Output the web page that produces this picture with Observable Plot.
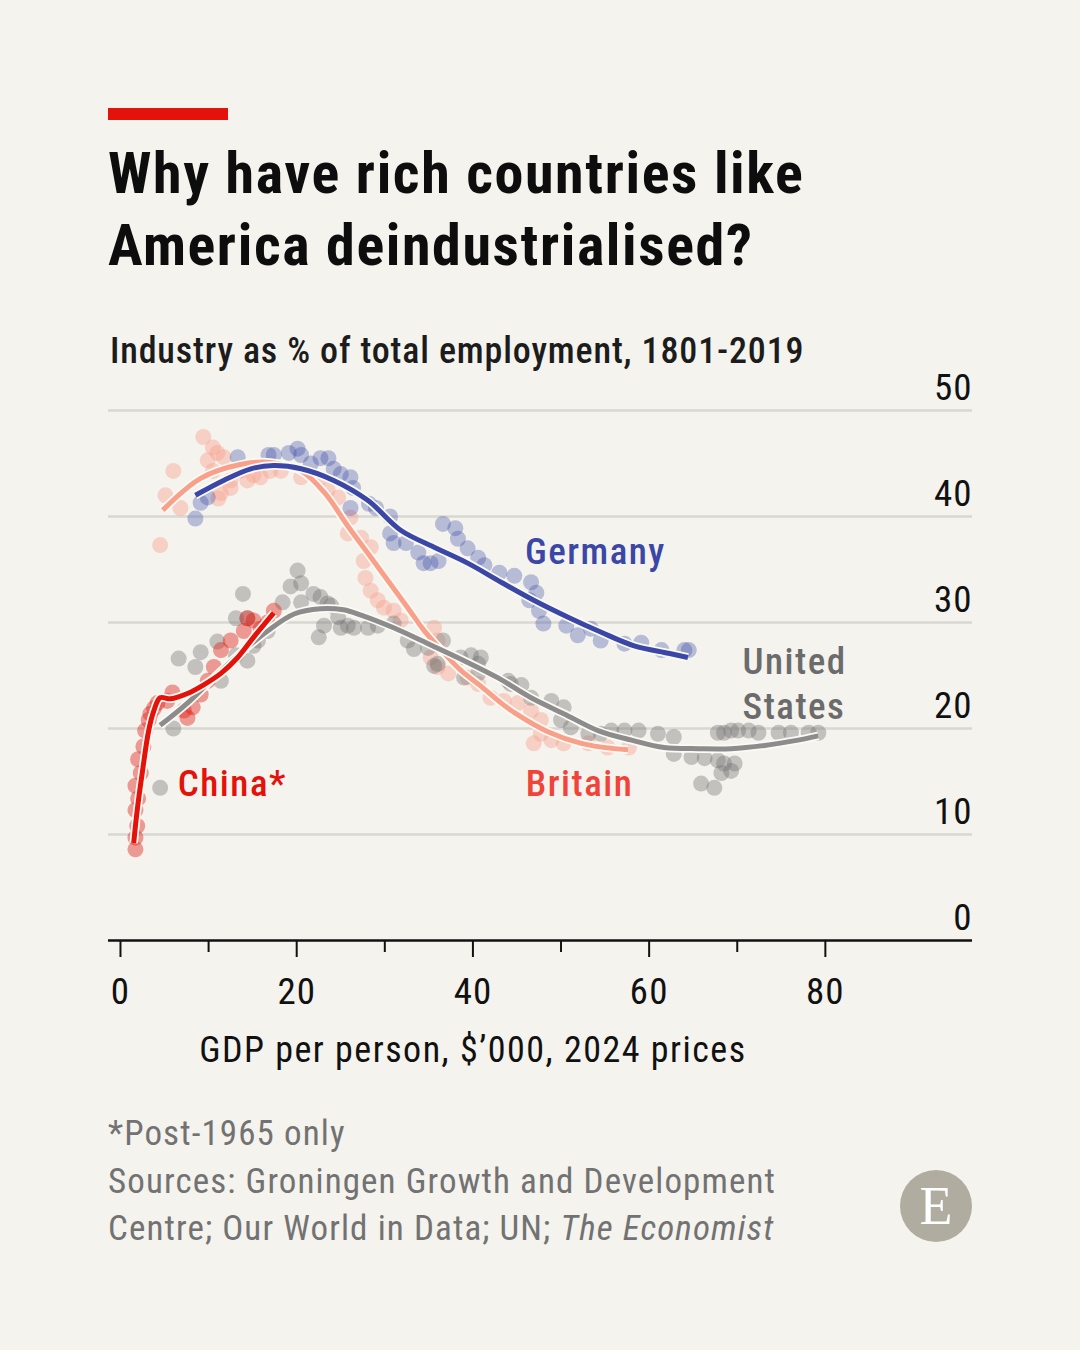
<!DOCTYPE html>
<html><head><meta charset="utf-8">
<script src="https://cdn.jsdelivr.net/npm/d3@7"></script>
<script src="https://cdn.jsdelivr.net/npm/@observablehq/plot@0.6"></script>
<style>
html,body{margin:0;padding:0;background:#f4f3ee;}
#page{position:relative;width:1080px;height:1350px;background:#f4f3ee;overflow:hidden;
  font-family:"Roboto Condensed","Liberation Sans Narrow","DejaVu Sans Condensed",Roboto,sans-serif;}
#bar{position:absolute;left:108px;top:108px;width:120px;height:12px;background:#e3120b;}
#title{position:absolute;left:108px;top:137px;font-size:58px;line-height:72px;font-weight:700;color:#0d0d0d;white-space:nowrap;letter-spacing:1.6px;}
#subtitle{position:absolute;left:110px;top:331px;font-size:36px;line-height:40px;font-weight:500;color:#1c1c1c;white-space:nowrap;letter-spacing:0.85px;}
#chart{position:absolute;left:0;top:370px;}
#chart g[aria-label="text"] text{letter-spacing:1.5px;}
#chart g[aria-label$="tick label"] text{letter-spacing:1px;}
#footer{position:absolute;left:108px;top:1110px;font-size:35px;line-height:47.5px;color:#727272;white-space:nowrap;letter-spacing:1.1px;}
#logo{position:absolute;left:900px;top:1170px;width:72px;height:72px;border-radius:50%;background:#b0ac9f;color:#fff;
  font-family:"Liberation Serif","DejaVu Serif",serif;font-size:54px;line-height:72px;text-align:center;}
</style></head>
<body><div id="page">
<div id="bar"></div>
<div id="title">Why have rich countries like<br>America deindustrialised?</div>
<div id="subtitle">Industry as % of total employment, 1801-2019</div>
<div id="chart"></div>
<div id="footer">*Post-1965 only<br>Sources: Groningen Growth and Development<br>Centre; Our World in Data; UN; <i>The Economist</i></div>
<div id="logo">E</div>
</div>
<script>
// ---- data: [GDP per person $'000, industry % of employment] ----
const germanyDots = [[8.5,39.8],[9.1,41.3],[9.9,41.8],[13.3,45.6],[16.8,45.8],[17.4,45.8],[19.1,46.0],[20.1,46.4],[20.5,45.8],[21.6,45.0],[22.7,45.5],[23.6,45.5],[24.2,44.5],[25.0,44.0],[26.1,43.7],[26.4,42.7],[26.1,40.8],[28.2,41.2],[29.0,40.8],[30.6,40.0],[30.6,38.4],[31.0,37.5],[32.4,37.5],[33.8,36.6],[34.4,35.6],[35.2,35.6],[36.1,35.8],[36.6,39.3],[38.0,38.9],[38.3,37.9],[39.4,37.0],[40.6,36.1],[41.3,35.4],[43.0,34.7],[44.7,34.4],[46.6,33.8],[47.2,32.8],[46.4,32.1],[47.5,31.1],[48.0,29.9],[50.6,29.7],[51.9,28.8],[53.4,29.4],[54.5,28.3],[57.2,28.0],[59.1,28.1],[61.4,27.4],[64.0,27.4],[64.5,27.4]];
const germanyTrend = [[8.5,42.0],[11.7,43.4],[14.8,44.5],[17.4,44.8],[20.5,44.5],[24.2,43.4],[28.1,41.5],[31.8,38.7],[35.6,37.1],[39.4,35.6],[43.2,33.8],[46.9,32.1],[50.8,30.5],[54.5,29.1],[58.3,27.8],[62.2,27.1],[64.4,26.7]];

const britainDots = [[4.5,37.3],[5.1,42.0],[6.0,44.3],[6.8,40.8],[9.4,47.5],[9.9,45.3],[10.5,46.5],[11.0,46.0],[11.7,45.6],[10.5,44.3],[11.4,42.2],[11.1,41.7],[12.5,43.4],[12.5,42.7],[13.6,44.3],[14.4,43.4],[15.1,43.9],[15.9,43.7],[17.0,44.3],[18.2,44.3],[20.5,43.7],[22.4,43.4],[23.5,42.5],[24.7,41.8],[26.1,39.9],[25.8,38.4],[27.3,38.0],[28.4,37.1],[27.6,35.8],[27.8,34.2],[28.4,33.0],[29.2,32.1],[29.9,31.4],[31.0,31.1],[31.8,30.2],[35.6,29.5],[36.0,28.3],[35.2,26.7],[36.0,25.8],[37.2,25.2],[39.4,24.8],[40.6,24.2],[42.0,22.9],[43.5,22.6],[45.1,22.4],[46.6,21.7],[47.7,20.8],[47.7,19.5],[46.9,18.6],[48.9,18.9],[50.3,18.6],[53.1,18.6],[55.3,18.2],[57.7,18.2]];
const britainTrend = [[4.8,40.6],[9.1,43.6],[13.6,44.9],[17.0,45.1],[20.5,44.3],[23.2,42.2],[25.8,39.1],[28.1,36.5],[30.3,34.0],[32.6,31.4],[34.4,29.3],[36.4,27.4],[38.6,25.5],[40.9,24.0],[43.2,22.4],[44.7,21.5],[48.5,19.7],[52.3,18.6],[56.0,18.1],[57.6,18.0]];

const usDots = [[4.5,14.4],[6.0,20.0],[6.6,26.6],[8.5,25.8],[9.1,27.2],[11.4,24.5],[11.0,28.2],[13.1,30.4],[14.4,30.4],[13.9,32.7],[13.1,26.9],[14.4,26.4],[15.1,27.8],[15.6,28.3],[16.7,29.2],[18.4,31.9],[19.3,33.4],[20.1,34.9],[20.5,33.7],[20.5,31.9],[21.9,32.7],[22.7,32.4],[23.5,31.8],[23.9,31.6],[24.7,30.5],[25.8,29.7],[22.5,28.6],[23.1,29.7],[25.0,29.5],[26.5,29.5],[28.1,29.5],[29.2,29.7],[31.0,29.9],[32.6,28.3],[33.3,27.5],[34.9,27.6],[35.6,25.9],[36.6,28.3],[36.0,26.1],[38.6,26.7],[39.8,26.9],[40.9,26.7],[40.6,26.1],[39.0,24.8],[40.6,25.2],[44.0,24.5],[44.3,24.2],[45.5,24.1],[46.6,22.9],[48.9,22.6],[50.3,22.0],[50.0,20.8],[51.1,20.1],[53.1,19.5],[54.5,19.5],[55.7,19.8],[57.2,19.8],[58.8,19.8],[61.0,19.5],[62.8,19.2],[62.8,17.6],[64.8,17.3],[66.3,17.2],[67.8,17.0],[68.5,16.7],[69.7,16.7],[68.2,15.8],[69.3,16.0],[65.9,14.8],[67.4,14.4],[67.8,19.6],[68.5,19.6],[69.3,19.8],[70.1,19.8],[71.3,19.8],[72.4,19.6],[74.7,19.6],[76.1,19.6],[78.1,19.6],[79.2,19.6]];
const usTrend = [[4.5,20.3],[7.6,22.4],[10.6,24.8],[13.6,27.1],[16.7,29.2],[19.7,30.8],[22.7,31.3],[25.3,31.2],[27.3,30.7],[31.0,29.5],[34.9,28.0],[39.0,26.4],[42.8,24.8],[46.6,22.9],[50.3,21.4],[54.2,19.8],[58.0,18.9],[61.7,18.2],[65.6,18.1],[69.3,18.1],[73.1,18.4],[76.9,18.9],[79.2,19.3]];

const chinaDots = [[1.7,8.6],[1.7,9.7],[1.9,10.8],[1.7,12.3],[2.0,13.4],[1.7,14.6],[2.3,15.8],[2.0,17.1],[2.6,18.3],[2.8,19.8],[3.2,20.8],[3.4,21.4],[3.8,21.9],[4.2,22.4],[5.3,22.6],[5.9,23.4],[7.2,21.7],[7.6,21.0],[8.2,22.0],[9.1,23.2],[9.9,24.5],[10.6,25.8],[11.4,27.4],[12.5,28.3],[14.0,29.2],[14.4,30.4],[15.1,30.2],[15.9,29.4],[16.7,30.0],[17.4,31.1]];
const chinaTrend = [[1.5,9.2],[1.9,12.3],[2.5,16.0],[3.2,19.8],[3.8,21.7],[4.5,22.9],[5.7,22.8],[7.6,23.3],[9.4,24.1],[11.4,25.2],[13.3,26.7],[15.1,28.6],[17.4,30.9]];

const yTicks = [0, 10, 20, 30, 40, 50];
const gridTicks = [10, 20, 30, 40, 50];
const xMajorTicks = [0, 20, 40, 60, 80];
const xMinorTicks = [10, 30, 50, 70];
const xTitle = "GDP per person, $\u2019000, 2024 prices";
const seriesLabels = [
  {text: "Germany", x: 45.9, y: 36.9, color: "#3a47a6"},
  {text: "United\nStates", x: 70.6, y: 24.4, color: "#6b6b6b"},
  {text: "Britain", x: 46.0, y: 15.0, color: "#f0433a"},
  {text: "China*", x: 6.5, y: 15.0, color: "#e3120b"}
];

const FONT = '"Roboto Condensed","Liberation Sans Narrow","DejaVu Sans Condensed",Roboto,sans-serif';
const halo = "#fbfaf4";
const px = d => d[0], py = d => d[1];
const dots = (data, fill, op) => Plot.dot(data, {x: px, y: py, r: 8, fill, fillOpacity: op, stroke: "none"});
const trend = (data, stroke) => [
  Plot.line(data, {x: px, y: py, curve: "catmull-rom", stroke: halo, strokeWidth: 8.5, strokeLinecap: "butt"}),
  Plot.line(data, {x: px, y: py, curve: "catmull-rom", stroke, strokeWidth: 5, strokeLinecap: "butt"})
];

const chart = Plot.plot({
  width: 1080, height: 700,
  marginLeft: 108, marginRight: 108, marginTop: 40, marginBottom: 130,
  x: {domain: [-1.36, 96.7]},
  y: {domain: [0, 50]},
  style: {background: "transparent", fontFamily: FONT, overflow: "visible", color: "#111"},
  marks: [
    Plot.ruleY(gridTicks, {stroke: "#d8d7d2", strokeWidth: 2.5}),
    Plot.axisY(yTicks, {anchor: "right", tickSize: 0, tickPadding: 0, textAnchor: "end", dy: -22, fontSize: 37, label: null}),
    dots(britainDots, "#f7a08c", 0.42),
    dots(usDots, "#707070", 0.38),
    dots(germanyDots, "#3b4aa6", 0.33),
    dots(chinaDots, "#e3120b", 0.4),
    ...trend(britainTrend, "#f9a08b"),
    ...trend(usTrend, "#8c8c8c"),
    ...trend(germanyTrend, "#3a47a6"),
    ...trend(chinaTrend, "#e3120b"),
    Plot.ruleY([0], {stroke: "#111", strokeWidth: 2.5}),
    Plot.axisX(xMajorTicks, {tickSize: 17, tickPadding: 20, fontSize: 37, strokeWidth: 2, label: null}),
    Plot.axisX(xMinorTicks, {tickSize: 12, strokeWidth: 2, tickFormat: () => "", label: null}),
    Plot.text([xTitle], {x: 40, frameAnchor: "bottom", dy: 110, fontSize: 36, fill: "#111", lineAnchor: "middle"}),
    Plot.text(seriesLabels, {x: "x", y: "y", text: "text", fill: "color", fontSize: 37, fontWeight: 500, textAnchor: "start", lineAnchor: "middle", lineHeight: 1.22})
  ]
});
document.getElementById("chart").appendChild(chart);
</script>
</body></html>
